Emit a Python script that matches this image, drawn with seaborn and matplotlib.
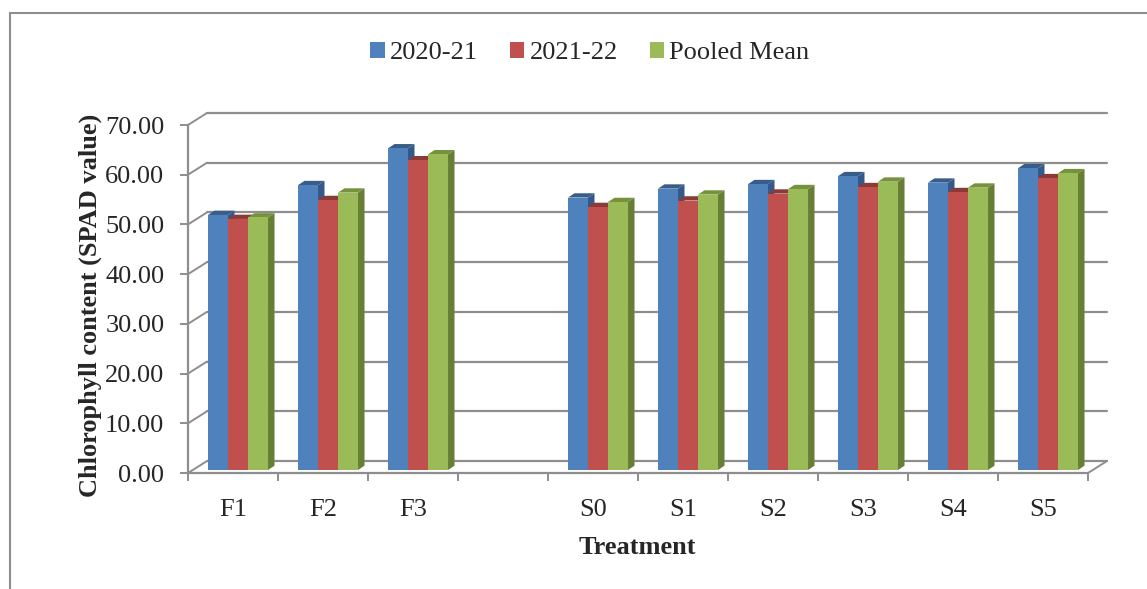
import numpy as np
import pandas as pd
import matplotlib
matplotlib.use("Agg")
import matplotlib.pyplot as plt
import seaborn as sns
from matplotlib.patches import Polygon, Rectangle, Patch
from matplotlib.ticker import FormatStrFormatter

# ── Data ───────────────────────────────────────────────────
treatments = ["F1", "F2", "F3", "S0", "S1", "S2", "S3", "S4", "S5"]
order      = ["F1", "F2", "F3", "", "S0", "S1", "S2", "S3", "S4", "S5"]
seasons    = ["2020-21", "2021-22", "Pooled Mean"]
y_2020_21  = [51.3, 57.3, 64.7, 54.8, 56.6, 57.5, 59.1, 57.8, 60.7]
y_2021_22  = [50.5, 54.3, 62.3, 52.9, 54.2, 55.6, 56.9, 55.9, 58.7]
y_pooled   = [50.8, 55.8, 63.5, 53.9, 55.4, 56.5, 58.0, 56.8, 59.7]

front_cols = ["#4F81BD", "#C0504D", "#9BBB59"]
top_cols   = ["#385D8A", "#8C3A38", "#76923C"]
side_cols  = ["#355989", "#8A3634", "#677F35"]

df = pd.DataFrame({
    "Treatment": treatments * 3,
    "Season":    np.repeat(seasons, len(treatments)),
    "value":     y_2020_21 + y_2021_22 + y_pooled,
})

# ── Figure ─────────────────────────────────────────────────
sns.set_style("white")
plt.rcParams["font.family"] = ["Liberation Serif", "DejaVu Serif"]
FS = 19
W, H = 1147, 589
fig = plt.figure(figsize=(W / 100, H / 100), dpi=100)
ax = fig.add_axes([188 / W, 1 - 473 / H, 900 / W, 348 / H])

sns.barplot(data=df, x="Treatment", y="value", hue="Season", order=order,
            hue_order=seasons, palette=front_cols, saturation=1,
            width=0.667, errorbar=None, ax=ax, legend=False)

ax.set_xlim(-0.5, len(order) - 0.5)
ax.set_ylim(0, 70)

# pixel -> data conversions for the fake 3D look
PX_X = 900 / len(order)
PX_Y = 348 / 70
DX, DY   = 19 / PX_X, 12 / PX_Y      # wall depth
BOX, BOY = 5 / PX_X, 3 / PX_Y        # bar front offset
BDX, BDY = 6.5 / PX_X, 4.3 / PX_Y    # bar depth

GRID = "#8e8e8e"

# back wall gridlines + left wall stubs
for v in range(0, 71, 10):
    ax.plot([-0.5 + DX, len(order) - 0.5 + DX], [v + DY, v + DY],
            color=GRID, lw=1.6, zorder=1, clip_on=False)
    ax.plot([-0.5, -0.5 + DX], [v, v + DY], color=GRID, lw=1.4,
            zorder=1, clip_on=False)
# floor right edge
ax.plot([len(order) - 0.5, len(order) - 0.5 + DX], [0, DY], color=GRID,
        lw=1.4, zorder=1, clip_on=False)

# 3D bars: shift front faces, add top and side faces
bars = list(ax.patches)
for p in bars:
    fc = matplotlib.colors.to_hex(p.get_facecolor())
    i = [c.lower() for c in front_cols].index(fc.lower())
    x0, w, h = p.get_x() + BOX, p.get_width(), p.get_height()
    if not np.isfinite(h):
        continue
    b0 = BOY
    p.set_x(x0)
    p.set_y(b0)
    p.set_edgecolor("none")
    p.set_zorder(2 + i * 0.1 + 0.05)
    p.set_clip_on(False)
    x1, top = x0 + w, b0 + h
    ax.add_patch(Polygon([(x0, top), (x1, top), (x1 + BDX, top + BDY),
                          (x0 + BDX, top + BDY)], closed=True,
                         facecolor=top_cols[i], edgecolor="none",
                         zorder=2 + i * 0.1, clip_on=False))
    ax.add_patch(Polygon([(x1, b0), (x1 + BDX, b0 + BDY),
                          (x1 + BDX, top + BDY), (x1, top)], closed=True,
                         facecolor=side_cols[i], edgecolor="none",
                         zorder=2 + i * 0.1, clip_on=False))

# axes styling
sns.despine(ax=ax, top=True, right=True)
for s in ["left", "bottom"]:
    ax.spines[s].set_color(GRID)
    ax.spines[s].set_linewidth(1.6)
ax.set_facecolor("none")

ax.set_yticks(range(0, 71, 10))
ax.yaxis.set_major_formatter(FormatStrFormatter("%.2f"))
ax.tick_params(axis="y", direction="out", length=6, width=1.4, color=GRID,
               pad=11, labelsize=FS, left=True)

ax.set_xticks(np.arange(-0.5, len(order), 1.0))
ax.set_xticklabels([])
ax.set_xticks(np.arange(len(order)), labels=order, minor=True)
ax.tick_params(axis="x", which="major", direction="out", length=6, width=1.4,
               color=GRID, bottom=True)
ax.tick_params(axis="x", which="minor", length=0, pad=19, labelsize=FS)

ax.set_xlabel("")
ax.set_ylabel("")
fig.text(90 / W, 1 - 305 / H, "Chlorophyll content (SPAD value)",
         rotation=90, ha="center", va="center", fontsize=FS, fontweight="bold")
fig.text(637 / W, 1 - 547 / H, "Treatment", ha="center", va="center",
         fontsize=FS, fontweight="bold")

handles = [Patch(facecolor=c, edgecolor="none") for c in front_cols]
fig.legend(handles, seasons, loc="center", bbox_to_anchor=(590 / W, 1 - 53 / H),
           ncol=3, frameon=False, fontsize=FS, handlelength=0.55,
           handleheight=0.55, handletextpad=0.2, columnspacing=1.2)

# outer chart border (left and top visible)
fig.patches.append(Rectangle((10 / W, -0.1), 1.2, 1 - 13 / H + 0.1,
                             transform=fig.transFigure, fill=False,
                             edgecolor=GRID, lw=1.5))

fig.savefig("out.png", dpi=100)
